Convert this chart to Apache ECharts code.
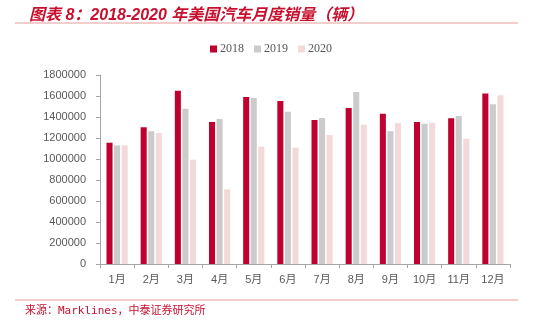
<!DOCTYPE html>
<html><head><meta charset="utf-8">
<script src="https://cdn.jsdelivr.net/npm/echarts@6/dist/echarts.min.js"></script>
<style>html,body{margin:0;padding:0;background:#fff}#c{width:542px;height:331px}</style>
</head><body><div id="c"></div>
<script>
var categories = ['1月','2月','3月','4月','5月','6月','7月','8月','9月','10月','11月','12月'];
var seriesNames = ['2018','2019','2020'];
var s2018 = [1155000,1302000,1651000,1352000,1590000,1552000,1371000,1486000,1432000,1352000,1387000,1625000];
var s2019 = [1130000,1264000,1479000,1381000,1581000,1451000,1390000,1638000,1264000,1336000,1410000,1521000];
var s2020 = [1130000,1248000,993000,711000,1117000,1108000,1229000,1327000,1343000,1346000,1194000,1607000];
var colors = ['#C0002F','#CBCBCB','#F2DADA'];

var chart = echarts.init(document.getElementById('c'));
chart.setOption({
  animation: false,
  color: colors,
  title: {
    text: '图表 8：2018-2020 年美国汽车月度销量（辆）',
    left: 24, top: 3,
    textStyle: {fontSize: 16, fontStyle: 'italic', fontWeight: 'bold', color: '#C8102E', fontFamily: 'Liberation Sans, Noto Sans CJK SC'}
  },
  graphic: [
    {type: 'line', shape: {x1: 15, y1: 23, x2: 518, y2: 23}, style: {stroke: '#E89A9A', lineWidth: 1}},
    {type: 'line', shape: {x1: 15, y1: 300, x2: 518, y2: 300}, style: {stroke: '#E89A9A', lineWidth: 1}},
    {type: 'text', left: 25, top: 306, style: {text: '来源：Marklines，中泰证券研究所', fill: '#C8102E', font: '11px "DejaVu Sans Mono", "Noto Sans CJK SC"'}}
  ],
  legend: {
    data: seriesNames, top: 38, left: 'center',
    itemWidth: 7, itemHeight: 7, itemGap: 10, icon: 'rect',
    textStyle: {fontFamily: 'Liberation Serif', fontSize: 12, color: '#595959', padding: [0,0,0,-2]}
  },
  grid: {left: 100, right: 32, top: 75, bottom: 67, containLabel: false},
  xAxis: {
    type: 'category', data: categories,
    axisLine: {lineStyle: {color: '#A6A6A6'}},
    axisTick: {show: true, length: 4, alignWithLabel: false, lineStyle: {color: '#A6A6A6'}},
    axisLabel: {color: '#595959', fontSize: 11, margin: 10, fontFamily: 'Liberation Sans, Noto Sans CJK SC', interval: 0}
  },
  yAxis: {
    type: 'value', min: 0, max: 1800000, interval: 200000,
    splitLine: {show: false},
    axisLine: {show: true, lineStyle: {color: '#A6A6A6'}},
    axisTick: {show: true, length: 4, lineStyle: {color: '#A6A6A6'}},
    axisLabel: {color: '#595959', fontSize: 11, margin: 14, fontFamily: 'Liberation Sans', formatter: function (v) { return String(v); }}
  },
  series: [
    {name: seriesNames[0], type: 'bar', data: s2018, barGap: '25%', barCategoryGap: '38%'},
    {name: seriesNames[1], type: 'bar', data: s2019, barGap: '25%', barCategoryGap: '38%'},
    {name: seriesNames[2], type: 'bar', data: s2020, barGap: '25%', barCategoryGap: '38%'}
  ]
});
</script></body></html>
